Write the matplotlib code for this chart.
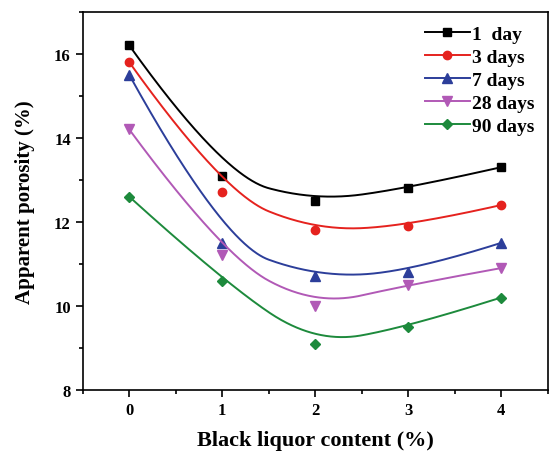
import numpy as np
import matplotlib.pyplot as plt
from matplotlib.ticker import MultipleLocator

# black liquor dosage (%) and apparent porosity (%) per curing age
content = [0, 1, 2, 3, 4]
day1 = [16.2, 13.1, 12.5, 12.8, 13.3]
day3 = [15.8, 12.7, 11.8, 11.9, 12.4]
day7 = [15.5, 11.5, 10.7, 10.8, 11.5]
day28 = [14.2, 11.2, 10.0, 10.5, 10.9]
day90 = [12.6, 10.6, 9.1, 9.5, 10.2]

labels = ["1  day", "3 days", "7 days", "28 days", "90 days"]
series = [day1, day3, day7, day28, day90]
colors = ["#000000", "#e5221e", "#2c3e9a", "#b159b6", "#1d8a3c"]
markers = ["s", "o", "^", "v", "D"]
msizes = [5.5, 6, 6.5, 6.5, 5.5]


def bspline(px, py, k=2, n=400):
    """clamped B-spline using the data as control points"""
    px = np.asarray(px, float)
    py = np.asarray(py, float)
    m = len(px)
    inner = np.linspace(0, 1, m - k + 1)[1:-1]
    knots = np.concatenate([np.zeros(k + 1), inner, np.ones(k + 1)])
    u = np.linspace(0, 1, n)
    u[-1] -= 1e-9
    # Cox-de Boor recursion
    N = np.zeros((n, len(knots) - 1))
    for i in range(len(knots) - 1):
        N[:, i] = (u >= knots[i]) & (u < knots[i + 1])
    for d in range(1, k + 1):
        Nn = np.zeros((n, len(knots) - 1 - d))
        for i in range(len(knots) - 1 - d):
            a = knots[i + d] - knots[i]
            b = knots[i + d + 1] - knots[i + 1]
            t1 = (u - knots[i]) / a * N[:, i] if a > 0 else 0
            t2 = (knots[i + d + 1] - u) / b * N[:, i + 1] if b > 0 else 0
            Nn[:, i] = t1 + t2
        N = Nn
    return N @ px, N @ py


plt.rcParams["font.family"] = "Liberation Serif"
plt.rcParams["font.weight"] = "bold"

fig = plt.figure(figsize=(5.49, 4.52), dpi=100)
ax = fig.add_axes([0.1506, 0.135, 0.8471, 0.837])

for y, lab, c, mk, ms in zip(series, labels, colors, markers, msizes):
    sx, sy = bspline(content, y)
    ax.plot(sx, sy, color=c, lw=1.4)
    ax.plot(content, y, ls="none", marker=mk, color=c, ms=ms)
    # legend proxy: line with marker
    ax.plot([], [], color=c, lw=1.4, marker=mk, ms=ms, label=lab)

ax.set_xlim(-0.5, 4.5)
ax.set_ylim(8, 17)
ax.set_xticks(content)
ax.set_yticks([8, 10, 12, 14, 16])
ax.xaxis.set_minor_locator(MultipleLocator(0.5))
ax.yaxis.set_minor_locator(MultipleLocator(1))
ax.tick_params(which="both", direction="out", top=False, right=False,
               width=1.2, labelsize=12)
ax.tick_params(which="major", length=5)
ax.tick_params(which="minor", length=3)
for s in ax.spines.values():
    s.set_linewidth(1.2)

ax.set_xlabel("Black liquor content (%)", fontsize=16, fontweight="bold", labelpad=9)
ax.set_ylabel("Apparent porosity (%)", fontsize=15, fontweight="bold", labelpad=14)

ax.legend(loc="upper right", frameon=False, handlelength=2.3,
          handletextpad=0.1, labelspacing=0.28, borderaxespad=0.3,
          borderpad=0.4, prop={"weight": "bold", "size": 14})

fig.savefig("out.png", dpi=100)
